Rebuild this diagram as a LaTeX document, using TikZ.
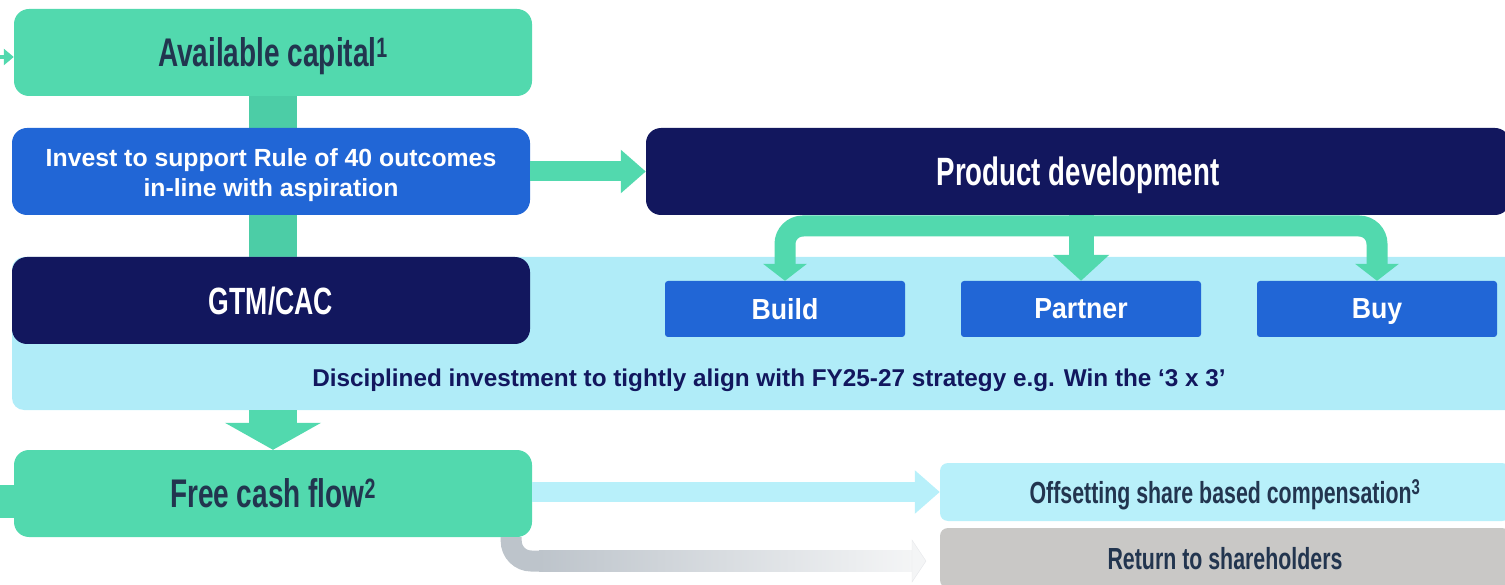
\documentclass[tikz,border=0pt]{standalone}
\usepackage{fontspec}
\setmainfont{Liberation Sans}
\newfontfamily\condf[FakeStretch=0.70]{Liberation Sans}
\newfontfamily\semicond[FakeStretch=0.92]{Liberation Sans}
\usetikzlibrary{arrows.meta}
\definecolor{mint}{HTML}{52D9AE}
\definecolor{mintdark}{HTML}{4CCDA6}
\definecolor{bblue}{HTML}{2166D6}
\definecolor{navy}{HTML}{12175E}
\definecolor{panelblue}{HTML}{B0ECF8}
\definecolor{offblue}{HTML}{B8F0FA}
\definecolor{graybox}{HTML}{C9C8C6}
\definecolor{darktext}{HTML}{22354F}
\definecolor{grayA}{HTML}{BDC4CB}
\definecolor{grayB}{HTML}{F4F5F6}
\tikzset{
  bigbox/.style={rounded corners=15pt, minimum width=518pt, minimum height=87pt, inner sep=0pt, text depth=0pt},
  mintbox/.style={bigbox, fill=mint, text=darktext, font=\condf\bfseries\fontsize{40}{44}\selectfont},
  navybox/.style={bigbox, fill=navy, text=white, font=\condf\bfseries\fontsize{38}{42}\selectfont},
  smallbox/.style={rounded corners=3pt, fill=bblue, minimum width=240pt, minimum height=56pt, inner sep=0pt, text depth=0pt, text=white, font=\semicond\bfseries\fontsize{29}{32}\selectfont},
  lowbox/.style={rounded corners=8pt, minimum width=570pt, inner sep=0pt, text depth=0pt, text=darktext, font=\condf\bfseries\fontsize{30.5}{34}\selectfont},
  branch/.style={mint, line width=21pt, rounded corners=18pt, -{Triangle[length=17pt,width=43pt]}},
}
\begin{document}
\begin{tikzpicture}[x=1pt,y=-1pt]
\useasboundingbox (0,0) rectangle (1505,585);
% vertical spine behind
\coordinate (spinetop) at (273,90);
\coordinate (spinebot) at (273,270);
\draw[mintdark, line width=48pt] (spinetop) -- (spinebot);
% panel
\node[rounded corners=12pt, fill=panelblue, minimum width=1508pt, minimum height=153pt, inner sep=0pt] (panel) at (766,333.5) {};
\node[text=navy, text depth=0pt, font=\bfseries\fontsize{24.3}{28}\selectfont] (disc) at (769,377.5) {Disciplined investment to tightly align with FY25-27 strategy e.g. Win the ‘3 x 3’};
% main boxes
\node[mintbox] (avail) at (273,52.5) {Available capital\smash{\textsuperscript{1}}};
\node[bigbox, fill=bblue, text=white, align=center, text height=51pt, font=\bfseries\fontsize{24.8}{30.5}\selectfont] (invest) at (271,171.5) {Invest to support Rule of 40 outcomes\\in-line with aspiration};
\node[navybox] (gtm) at (271,300.5) {GTM/CAC};
\node[mintbox] (fcf) at (273,493.5) {Free cash flow\smash{\textsuperscript{2}}};
\node[bigbox, fill=navy, text=white, minimum width=864pt, font=\condf\bfseries\fontsize{39.5}{42}\selectfont] (prod) at (1078,171.5) {Product development};
\node[smallbox] (build) at (785,309) {Build};
\node[smallbox] (partner) at (1081,309) {Partner};
\node[smallbox] (buy) at (1377,309) {Buy};
\node[lowbox, fill=offblue, minimum height=58pt] (offset) at (1225,492) {Offsetting share based compensation\smash{\textsuperscript{3}}};
\node[lowbox, fill=graybox, minimum height=60pt] (ret) at (1225,558) {Return to shareholders};
% incoming arrow tip at left of available capital
\coordinate (inleft) at (-30,57);
\draw[mint, line width=4pt, -{Triangle[length=10pt,width=16pt]}] (inleft) -- (avail.west |- inleft);
% stub to FCF from left
\coordinate (fcfleft) at (-5,501);
\draw[mint, line width=33pt] (fcfleft) -- (fcf.west |- fcfleft);
% invest -> product
\draw[mint, line width=20pt, -{Triangle[length=25pt,width=42pt]}] (invest.east) -- (prod.west);
% panel -> FCF
\draw[mint, line width=48pt, -{Triangle[length=27pt,width=95pt]}] (panel.south -| fcf.north) -- (fcf.north);
% product -> build / partner / buy
\coordinate (bar) at (1081,226);
\draw[branch] (bar) -| (build.north);
\draw[branch] (bar) -| (buy.north);
\draw[mint, line width=25pt, -{Triangle[length=26pt,width=55pt]}] (prod.south -| partner.north) -- (partner.north);
% FCF -> offset
\draw[offblue, line width=20pt, -{Triangle[length=25pt,width=42pt]}] (fcf.east |- offset.west) -- (offset.west);
% FCF -> return (gradient)
\coordinate (gbend) at (540,561);
\draw[grayA, line width=21pt, rounded corners=20pt] ([xshift=-21pt]fcf.south east) |- (gbend);
\shade[left color=grayA, right color=grayB] (539,550.5) rectangle (913,571.5);
\coordinate (gtip) at (ret.west);
\fill[grayB, draw=grayA!40, line width=0.4pt] (912,540) -- (926,561) -- (912,582) -- cycle;
\end{tikzpicture}
\end{document}
